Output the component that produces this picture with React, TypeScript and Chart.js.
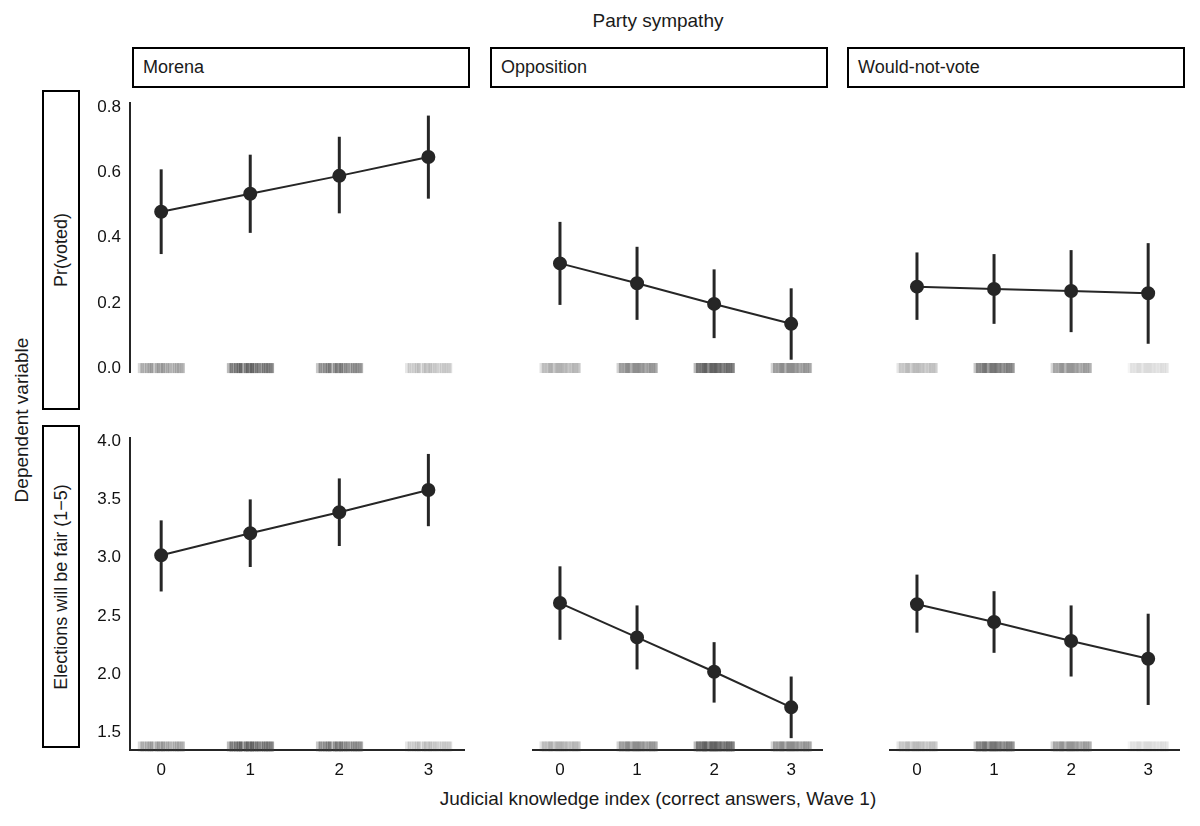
import React, { useEffect, useRef } from "react";
import { Chart, registerables } from "chart.js";
Chart.register(...registerables);

const xCats = [0, 1, 2, 3];
const groups = ["Morena", "Opposition", "Would-not-vote"];
const rows = ["Pr(voted)", "Elections will be fair (1\u22125)"];
const yTicksTop = [0, 0.2, 0.4, 0.6, 0.8];
const yTicksBottom = [1.5, 2.0, 2.5, 3.0, 3.5, 4.0];

const votedEst = [[0.48, 0.535, 0.59, 0.648], [0.315, 0.255, 0.193, 0.133], [0.245, 0.238, 0.232, 0.225]];
const votedLo = [[0.35, 0.415, 0.475, 0.52], [0.19, 0.145, 0.09, 0.025], [0.145, 0.133, 0.108, 0.073]];
const votedHi = [[0.61, 0.655, 0.71, 0.775], [0.44, 0.365, 0.297, 0.24], [0.348, 0.343, 0.355, 0.376]];
const fairEst = [[3.02, 3.21, 3.39, 3.58], [2.59, 2.3, 2.01, 1.71], [2.58, 2.43, 2.27, 2.12]];
const fairLo = [[2.71, 2.92, 3.1, 3.27], [2.28, 2.03, 1.75, 1.45], [2.34, 2.17, 1.97, 1.73]];
const fairHi = [[3.32, 3.5, 3.68, 3.89], [2.9, 2.57, 2.26, 1.97], [2.83, 2.69, 2.57, 2.5]];
// rug density per group per knowledge level (0..1)
const rugDensity = [[0.5, 0.85, 0.7, 0.3], [0.35, 0.55, 0.85, 0.55], [0.3, 0.7, 0.5, 0.15]];
const rugOffsets = [-0.24, -0.21, -0.19, -0.16, -0.13, -0.11, -0.08, -0.05, -0.03, 0.0, 0.02, 0.05, 0.07, 0.1, 0.12, 0.15, 0.18, 0.2, 0.23, 0.245];
const rugWeights = [0.5, 0.8, 0.4, 0.9, 0.6, 1, 0.5, 0.7, 0.9, 0.6, 1, 0.5, 0.8, 0.7, 0.4, 0.9, 0.6, 0.8, 0.5, 0.7];

const FONT = "'Liberation Sans', Arial, sans-serif";
const DARK = "#262626";

const colL = [130, 488, 845];
const plotW = 342;
const rowT = [90, 425];
const plotH = [322, 325];
const yAxisW = 45;
const xAxisH = 40;

function Panel({ r, c }: { r: number; c: number }) {
  const ref = useRef<HTMLCanvasElement>(null);
  useEffect(() => {
    const est = r === 0 ? votedEst[c] : fairEst[c];
    const lo = r === 0 ? votedLo[c] : fairLo[c];
    const hi = r === 0 ? votedHi[c] : fairHi[c];
    const ticks = r === 0 ? yTicksTop : yTicksBottom;
    const rugY = r === 0 ? 0 : 1.38;
    const extras = {
      id: "extras",
      beforeDatasetsDraw(chart: any) {
        const ctx = chart.ctx;
        const xs = chart.scales.x, ys = chart.scales.y;
        const yc = ys.getPixelForValue(rugY);
        ctx.save();
        xCats.forEach((x, i) => {
          rugOffsets.forEach((o, k) => {
            const a = Math.min(1, rugDensity[c][i] * rugWeights[k] * 0.8);
            ctx.fillStyle = `rgba(60,60,60,${a})`;
            const px = xs.getPixelForValue(x + o);
            ctx.fillRect(px - 2, yc - 5, 4, 10);
          });
        });
        ctx.strokeStyle = DARK;
        ctx.lineWidth = 3;
        xCats.forEach((x, i) => {
          const px = xs.getPixelForValue(x);
          ctx.beginPath();
          ctx.moveTo(px, ys.getPixelForValue(lo[i]));
          ctx.lineTo(px, ys.getPixelForValue(hi[i]));
          ctx.stroke();
        });
        ctx.restore();
      },
    };
    const chart = new Chart(ref.current!, {
      type: "line",
      data: {
        datasets: [{
          data: xCats.map((x, i) => ({ x, y: est[i] })),
          borderColor: DARK, backgroundColor: DARK, borderWidth: 2,
          pointRadius: 6, pointHoverRadius: 6,
        }],
      },
      options: {
        animation: false, responsive: true, maintainAspectRatio: false,
        layout: { padding: 0 },
        plugins: { legend: { display: false }, tooltip: { enabled: false } },
        scales: {
          x: {
            type: "linear", min: -0.35, max: 3.4,
            display: r === 1,
            afterFit: (s: any) => { s.height = xAxisH; },
            afterBuildTicks: (s: any) => { s.ticks = xCats.map((v) => ({ value: v })); },
            grid: { display: false, drawTicks: true, tickLength: 6, color: DARK },
            border: { display: true, color: DARK, width: 2 },
            ticks: { color: "#111", font: { family: FONT, size: 17 }, padding: 4 },
          },
          y: {
            type: "linear",
            min: r === 0 ? -0.012 : 1.35, max: r === 0 ? 0.813 : 4.025,
            display: c === 0,
            afterFit: (s: any) => { s.width = yAxisW; },
            afterBuildTicks: (s: any) => { s.ticks = ticks.map((v) => ({ value: v })); },
            grid: { display: false, drawTicks: true, tickLength: 6, color: DARK },
            border: { display: true, color: DARK, width: 2 },
            ticks: { color: "#111", font: { family: FONT, size: 17 }, padding: 3, callback: (v: any) => Number(v).toFixed(1) },
          },
        },
      },
      plugins: [extras],
    });
    return () => chart.destroy();
  }, [r, c]);
  const left = colL[c] - (c === 0 ? yAxisW : 0);
  const w = plotW + (c === 0 ? yAxisW : 0);
  const h = plotH[r] + (r === 1 ? xAxisH : 0);
  return (
    <div style={{ position: "absolute", left, top: rowT[r], width: w, height: h }}>
      <canvas ref={ref} />
    </div>
  );
}

export default function App() {
  const txt: React.CSSProperties = { position: "absolute", fontFamily: FONT, fontSize: 19, color: "#1a1a1a", whiteSpace: "nowrap" };
  return (
    <div style={{ position: "relative", width: 1184, height: 810, background: "#fff", margin: 0 }}>
      <div style={{ position: "absolute", left: -8, top: -8, width: 1200, height: 826 }}>
        <div style={{ ...txt, left: 0, width: 1316, top: 10, textAlign: "center" }}>Party sympathy</div>
        {groups.map((g, c) => (
          <div key={g} style={{ position: "absolute", left: colL[c] + 2, top: 47, width: plotW - 4, height: 41, boxSizing: "border-box", border: "2px solid #000", fontFamily: FONT, fontSize: 18, color: "#1a1a1a", paddingLeft: 9, lineHeight: "37px" }}>{g}</div>
        ))}
        {rows.map((t, r) => (
          <div key={t} style={{ position: "absolute", left: 42, top: rowT[r], width: 38, height: plotH[r] - 2, boxSizing: "border-box", border: "2px solid #000" }}>
            <div style={{ position: "absolute", left: "50%", top: "50%", transform: "translate(-50%,-50%) rotate(-90deg)", fontFamily: FONT, fontSize: 18, color: "#1a1a1a", whiteSpace: "nowrap" }}>{t}</div>
          </div>
        ))}
        <div style={{ ...txt, left: 22, top: 420, transform: "translate(-50%,-50%) rotate(-90deg)" }}>Dependent variable</div>
        <div style={{ ...txt, left: 130, width: 1056, top: 788, textAlign: "center" }}>Judicial knowledge index (correct answers, Wave 1)</div>
        {[0, 1].map((r) => [0, 1, 2].map((c) => <Panel key={`${r}-${c}`} r={r} c={c} />))}
      </div>
    </div>
  );
}
